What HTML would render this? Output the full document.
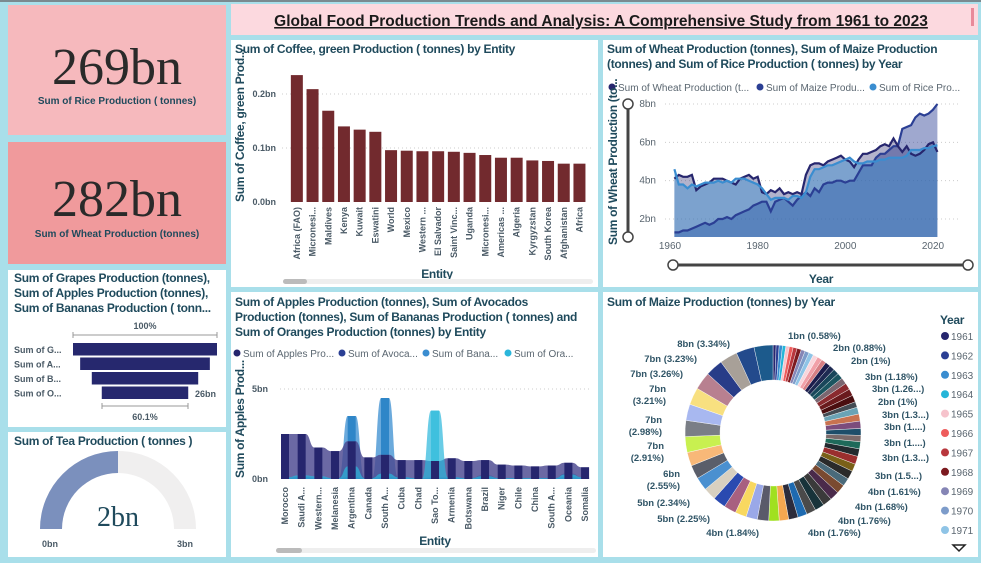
<!DOCTYPE html>
<html><head><meta charset="utf-8"><style>
html,body{margin:0;padding:0;background:#a9dfea;}
svg{display:block;font-family:"Liberation Sans",sans-serif;}
.t{font-weight:bold;font-size:12px;fill:#1f4a5c;letter-spacing:-0.3px}
.tk{font-size:9px;fill:#4a5a66;font-weight:bold}
.lg{font-size:10px;fill:#5a6670}
.dl{font-size:9.5px;fill:#2f5466;font-weight:bold}
</style></head><body>
<svg id="s" width="981" height="563" viewBox="0 0 981 563">
<rect x="0" y="0" width="981" height="563" fill="#a9dfea"/>
<rect x="0" y="0" width="981" height="2" fill="#7a8a90"/>
<g>
<rect x="8" y="5" width="218" height="130" fill="#f6b9bd"/>
<text x="117" y="84" text-anchor="middle" font-family="Liberation Serif,serif" font-size="52" fill="#2a2a2a">269bn</text>
<text x="117" y="104" text-anchor="middle" font-size="10" font-weight="bold" fill="#1f4a5c">Sum of Rice  Production ( tonnes)</text>
</g>
<g>
<rect x="8" y="142" width="218" height="122" fill="#f09a9c"/>
<text x="117" y="216" text-anchor="middle" font-family="Liberation Serif,serif" font-size="52" fill="#2a2a2a">282bn</text>
<text x="117" y="237" text-anchor="middle" font-size="10" font-weight="bold" fill="#1f4a5c">Sum of Wheat Production (tonnes)</text>
</g>
<g>
<rect x="8" y="270" width="218" height="157" fill="#fff"/>
<text class="t" x="14" y="282">Sum of Grapes Production (tonnes),</text>
<text class="t" x="14" y="297">Sum of Apples Production (tonnes),</text>
<text class="t" x="14" y="312">Sum of Bananas Production ( tonn...</text>
<text class="tk" x="145" y="329" text-anchor="middle">100%</text>
<line x1="73" y1="335" x2="217" y2="335" stroke="#999"/><line x1="73" y1="332" x2="73" y2="338" stroke="#999"/><line x1="217" y1="332" x2="217" y2="338" stroke="#999"/>
<g id="funnel"></g>
<text class="tk" x="195" y="397">26bn</text>
<line x1="102" y1="406" x2="188" y2="406" stroke="#999"/><line x1="102" y1="403" x2="102" y2="409" stroke="#999"/><line x1="188" y1="403" x2="188" y2="409" stroke="#999"/>
<text class="tk" x="145" y="420" text-anchor="middle">60.1%</text>
</g>
<g>
<rect x="8" y="432" width="218" height="125" fill="#fff"/>
<text class="t" x="14" y="445">Sum of Tea Production ( tonnes )</text>
<g id="gauge"></g>
<text x="118" y="526" text-anchor="middle" font-family="Liberation Serif,serif" font-size="28" fill="#1f4a5c">2bn</text>
<text class="tk" x="50" y="547" text-anchor="middle">0bn</text>
<text class="tk" x="185" y="547" text-anchor="middle">3bn</text>
</g>
<g>
<rect x="231" y="4" width="747" height="31" fill="#fcd9df"/>
<text x="601" y="26" text-anchor="middle" font-size="15.5" font-weight="bold" fill="#1a1a1a" text-decoration="underline">Global Food Production Trends and Analysis: A Comprehensive Study from 1961 to 2023</text>
<rect x="971" y="8" width="3" height="18" fill="#e88a9a"/>
</g>
<g>
<rect x="231" y="40" width="367" height="247" fill="#fff"/>
<text class="t" x="235" y="53">Sum of Coffee, green Production ( tonnes) by Entity</text>
<text class="t" transform="translate(244,202) rotate(-90)" font-size="11">Sum of Coffee, green Prod...</text>
<g id="coffee"></g>
<text class="t" x="437" y="278" text-anchor="middle" font-size="11">Entity</text>
<rect x="283" y="279" width="310" height="5" rx="2.5" fill="#eee"/>
<rect x="283" y="279" width="24" height="5" rx="2.5" fill="#bbb"/>
</g>
<g>
<rect x="603" y="40" width="375" height="247" fill="#fff"/>
<text class="t" x="607" y="53">Sum of Wheat Production (tonnes), Sum of Maize Production</text>
<text class="t" x="607" y="68">(tonnes) and Sum of Rice Production ( tonnes) by Year</text>
<circle cx="612" cy="87" r="3.5" fill="#26266e"/><text class="lg" x="618" y="91">Sum of Wheat Production (t...</text>
<circle cx="760" cy="87" r="3.5" fill="#2b3f94"/><text class="lg" x="766" y="91">Sum of Maize Produ...</text>
<circle cx="873" cy="87" r="3.5" fill="#3a8dd0"/><text class="lg" x="879" y="91">Sum of Rice  Pro...</text>
<text class="t" transform="translate(617,245) rotate(-90)" font-size="11">Sum of Wheat Production (to...</text>
<line x1="628" y1="104" x2="628" y2="237" stroke="#444" stroke-width="3"/>
<circle cx="628" cy="104" r="5" fill="#fff" stroke="#444" stroke-width="1.5"/>
<circle cx="628" cy="237" r="5" fill="#fff" stroke="#444" stroke-width="1.5"/>
<g id="line"></g>
<line x1="673" y1="265" x2="968" y2="265" stroke="#444" stroke-width="3"/>
<circle cx="673" cy="265" r="5" fill="#fff" stroke="#444" stroke-width="1.5"/>
<circle cx="968" cy="265" r="5" fill="#fff" stroke="#444" stroke-width="1.5"/>
<text class="t" x="821" y="283" text-anchor="middle" font-size="11">Year</text>
</g>
<g>
<rect x="231" y="292" width="367" height="265" fill="#fff"/>
<text class="t" x="235" y="306">Sum of Apples Production (tonnes), Sum of Avocados</text>
<text class="t" x="235" y="321">Production (tonnes), Sum of Bananas Production ( tonnes) and</text>
<text class="t" x="235" y="336">Sum of Oranges Production (tonnes) by Entity</text>
<circle cx="237" cy="353" r="3.5" fill="#26266e"/><text class="lg" x="243" y="357">Sum of Apples Pro...</text>
<circle cx="342" cy="353" r="3.5" fill="#2b3f94"/><text class="lg" x="348" y="357">Sum of Avoca...</text>
<circle cx="426" cy="353" r="3.5" fill="#3a8dd0"/><text class="lg" x="432" y="357">Sum of Bana...</text>
<circle cx="508" cy="353" r="3.5" fill="#2ab6db"/><text class="lg" x="514" y="357">Sum of Ora...</text>
<text class="t" transform="translate(244,478) rotate(-90)" font-size="11">Sum of Apples Prod...</text>
<g id="ribbon"></g>
<text class="t" x="435" y="545" text-anchor="middle" font-size="11">Entity</text>
<rect x="276" y="548" width="320" height="5" rx="2.5" fill="#eee"/>
<rect x="276" y="548" width="26" height="5" rx="2.5" fill="#bbb"/>
</g>
<g>
<rect x="603" y="292" width="375" height="265" fill="#fff"/>
<text class="t" x="607" y="306">Sum of Maize Production (tonnes) by Year</text>
<g id="donut"></g>
<g id="dlabels"></g>
<text class="t" x="940" y="324" font-size="11">Year</text>
<g id="legend"></g>
<path d="M953 545 L965 545 L959 551 Z" fill="none" stroke="#222" stroke-width="1.5"/>
</g>
</svg>
<script>
const NS="http://www.w3.org/2000/svg";
function mk(p,tag,attrs,txt){const e=document.createElementNS(NS,tag);for(const k in attrs)e.setAttribute(k,attrs[k]);if(txt!=null)e.textContent=txt;document.getElementById(p).appendChild(e);return e;}

const funnelCats=["Sum of G...","Sum of A...","Sum of B...","Sum of O..."];
const funnelVals=[43.3,39,32,26];
const teaValue=1.5, teaMax=3;
const coffeeCats=["Africa (FAO)","Micronesi...","Maldives","Kenya","Kuwait","Eswatini","World","Mexico","Western ...","El Salvador","Saint Vinc...","Uganda","Micronesi...","Americas ...","Algeria","Kyrgyzstan","South Korea","Afghanistan","Africa"];
const coffeeVals=[0.235,0.209,0.169,0.140,0.134,0.130,0.096,0.095,0.094,0.094,0.093,0.091,0.087,0.082,0.082,0.077,0.076,0.071,0.071];
const coffeeTicks=[0,0.1,0.2];
const years=[];for(let y=1961;y<=2021;y++)years.push(y);
const wheatVals=[4.1,4.3,4.2,4.2,4.3,3.5,3.7,3.8,3.9,4.1,4.1,4.1,4.0,3.9,3.8,4.1,4.2,4.3,4.1,4.2,3.4,3.3,3.5,3.4,3.6,3.3,3.4,3.3,3.4,3.3,4.3,4.8,4.9,4.9,4.8,5.0,5.1,5.2,5.3,5.1,5.0,4.7,5.1,5.4,5.4,5.5,5.6,5.8,5.9,5.8,6.2,5.8,5.5,5.8,5.4,5.3,5.4,5.6,5.9,6.0,5.5];
const maizeVals=[1.3,1.3,1.4,1.4,1.5,1.6,1.7,1.8,1.7,1.8,2.0,2.0,2.1,2.0,2.2,2.3,2.4,2.5,2.7,2.8,2.9,2.9,2.4,2.9,3.0,3.1,2.9,2.7,3.0,3.2,3.4,3.2,3.6,3.4,3.8,3.9,3.9,4.0,4.0,3.9,4.0,4.0,4.4,4.8,4.8,4.8,5.2,5.4,5.4,5.6,5.8,5.8,6.7,6.8,6.9,7.3,7.5,7.4,7.5,7.7,8.0];
const riceVals=[4.6,3.8,3.8,3.6,3.8,3.7,3.8,3.9,3.9,3.9,4.0,3.9,4.0,3.9,4.1,4.1,4.1,4.0,3.9,3.8,3.6,3.3,3.0,3.1,3.1,3.1,3.0,3.2,3.2,3.1,3.4,4.2,4.6,4.6,4.7,4.8,4.8,4.9,5.0,5.1,5.2,5.0,4.9,4.9,5.0,5.0,5.0,5.1,5.1,5.2,5.2,5.2,5.2,5.3,5.6,5.6,5.6,5.7,5.7,5.8,5.85];
const lineYTicks=[2,4,6,8];
const lineXTicks=[1960,1980,2000,2020];
const fruitCats=["Morocco","Saudi A...","Western...","Melanesia","Argentina","Canada","South A...","Cuba","Chad","Sao To...","Armenia","Botswana","Brazil","Niger","Chile","China","South A...","Oceania","Somalia"];
const applesVals=[2.5,2.5,1.75,1.55,2.1,1.2,1.35,1.05,1.05,1.0,1.15,1.0,1.05,0.8,0.75,0.7,0.75,0.9,0.65];
const avocadoVals=[0.05,0.1,0.05,0.03,0.1,0.02,0.1,0.05,0.02,0.05,0.05,0.03,0.1,0.02,0.05,0.03,0.05,0.1,0.05];
const bananaVals=[0.1,0.15,0.1,0.05,3.5,0.05,4.5,0.1,0.05,0.1,0.1,0.05,0.2,0.05,0.05,0.05,0.05,0.3,0.1];
const orangeVals=[0.1,0.2,0.15,0.05,0.7,0.05,0.3,0.1,0.05,3.8,0.1,0.05,0.15,0.05,0.05,0.05,0.05,0.25,0.1];
const fruitTicks=[0,5];
const donutColors=["#26266e","#2b3f94","#3a8dd0","#25b5d8","#f6c3cc","#ee5c5c","#b8373d","#7c1a1f","#8585b5","#7d9cca","#8fc4e6","#f9d6dc","#f1a0a8","#d77f84","#1c1c4c","#1e2a52","#19465a","#1b5560","#7a6670","#8a2a2f","#6a1a1d","#4a0e10","#444c54","#6aa3b5","#c87250","#7c4c7c","#1e4e6a","#7a6a6a","#1e6a5a","#222a2e","#9a2e2e","#7a6018","#2a2a2a","#4a6a7a","#7a4a30","#4a2a4a","#3a3a3a","#18333a","#4a4a4a","#1e6ab0","#2c2c3c","#f5a850","#a0e020","#5a5a6a","#9aa8e8","#f8d860","#a86080","#2a4ab0","#d8d0c0","#4a90d0","#5a5e6a","#f8b878","#c8f050","#7a7e86","#a8b8f0","#f8e080","#b88090","#283c88","#a8a098","#234a8c","#1c5a8c"];
const donutLabelsR=[["1bn (0.58%)",788,339],["2bn (0.88%)",833,351],["2bn (1%)",851,364],["3bn (1.18%)",865,380],["3bn (1.26...)",872,392],["2bn (1%)",878,405],["3bn (1.3...)",882,418],["3bn (1....)",884,430],["3bn (1....)",884,446],["3bn (1.3...)",882,461],["3bn (1.5...)",875,479],["4bn (1.61%)",868,495],["4bn (1.68%)",855,510],["4bn (1.76%)",838,524],["4bn (1.76%)",808,536]];
const donutLabelsL=[["4bn (1.84%)",759,536],["5bn (2.25%)",710,522],["5bn (2.34%)",690,506],["6bn",680,477],["(2.55%)",680,489],["7bn",664,449],["(2.91%)",664,461],["7bn",662,423],["(2.98%)",662,435],["7bn",666,392],["(3.21%)",666,404],["7bn (3.26%)",683,377],["7bn (3.23%)",697,362],["8bn (3.34%)",730,347]];

{const cx=145,maxW=144,y0=343,step=14.5;
funnelVals.forEach((v,i)=>{const w=maxW*v/funnelVals[0];const r=mk('funnel','rect',{x:cx-w/2,y:y0+i*step,width:w,height:12.5,fill:'#26286e'});


const t=mk('funnel','text',{x:14,y:y0+i*step+10,class:'tk'},funnelCats[i]);

});}

{const cx=118,cy=529,R=78,r=56;
function arc(a0,a1,col){const p=(a,rr)=>[cx+rr*Math.cos(a),cy-rr*Math.sin(a)];
const [x0,y0]=p(a0,R),[x1,y1]=p(a1,R),[x2,y2]=p(a1,r),[x3,y3]=p(a0,r);
return mk('gauge','path',{d:`M${x0} ${y0} A${R} ${R} 0 0 1 ${x1} ${y1} L${x2} ${y2} A${r} ${r} 0 0 0 ${x3} ${y3} Z`,fill:col});}
const bg=arc(Math.PI,0,'#f0efef');


const fg=arc(Math.PI,Math.PI*(1-teaValue/teaMax),'#7b90bd');

}

{const y=v=>202-v*540,x0=289,band=15.7;
coffeeTicks.forEach(t=>{if(t>0)mk('coffee','line',{x1:282,x2:592,y1:y(t),y2:y(t),stroke:'#ccc','stroke-dasharray':'1 3'});
const e=mk('coffee','text',{x:276,y:y(t)+3,class:'tk','text-anchor':'end'},t.toFixed(1)+'bn');

});
coffeeVals.forEach((v,i)=>{const cx=x0+band*i+band/2;
const r=mk('coffee','rect',{x:cx-6,y:y(v),width:12,height:202-y(v),fill:'#722a2e'});


const t=mk('coffee','text',{transform:`translate(${cx+3},207) rotate(-90)`,class:'tk','text-anchor':'end','font-size':'8.5'},coffeeCats[i]);

});}

{const x=yr=>670+(yr-1960)*4.383,y=v=>219-(v-2)*19.17,base=237;
lineYTicks.forEach(t=>{mk('line','line',{x1:665,x2:960,y1:y(t),y2:y(t),stroke:'#ccc','stroke-dasharray':'1 3'});
const e=mk('line','text',{x:656,y:y(t)+3,class:'lg','text-anchor':'end','font-size':'9'},t+'bn');

});
lineXTicks.forEach(t=>{const e=mk('line','text',{x:x(t),y:249,class:'lg','text-anchor':'middle','font-size':'9'},t);

});
const ser=[[maizeVals,'#2b3f94',0.45,'maize'],[wheatVals,'#26266e',0.35,'wheat'],[riceVals,'#3a8dd0',0.45,'rice']];
ser.forEach(([vals,col,op,nm])=>{let d='';vals.forEach((v,i)=>{d+=(i?'L':'M')+x(years[i]).toFixed(1)+' '+y(v).toFixed(1);});
const a=mk('line','path',{d:d+`L${x(years[years.length-1])} ${base}L${x(years[0])} ${base}Z`,fill:col,'fill-opacity':op});

});
ser.forEach(([vals,col,op,nm])=>{let d='';vals.forEach((v,i)=>{d+=(i?'L':'M')+x(years[i]).toFixed(1)+' '+y(v).toFixed(1);});
const l=mk('line','path',{d,fill:'none',stroke:col,'stroke-width':2.2});

});}

{const y=v=>479-v*18,x=i=>285+i*16.67,h=4;
fruitTicks.forEach(t=>{if(t>0)mk('ribbon','line',{x1:280,x2:592,y1:y(t),y2:y(t),stroke:'#ccc','stroke-dasharray':'1 3'});
const e=mk('ribbon','text',{x:268,y:y(t)+3,class:'tk','text-anchor':'end'},t+'bn');

});
function rib(vals,col,op,nm){let d=`M${x(0)-h} ${y(0)}L${x(0)-h} ${y(vals[0])}`;
vals.forEach((v,i)=>{d+=`L${x(i)+h} ${y(v)}`;if(i<vals.length-1){const xa=x(i)+h,xb=x(i+1)-h,m=(xa+xb)/2;d+=`C${m} ${y(v)} ${m} ${y(vals[i+1])} ${xb} ${y(vals[i+1])}`;}});
d+=`L${x(vals.length-1)+h} ${y(0)}Z`;
const p=mk('ribbon','path',{d,fill:col,'fill-opacity':op});

}
rib(bananaVals,'#3a8dd0',0.75,'bananas');
rib(applesVals,'#4a4890',0.82,'apples');
rib(avocadoVals,'#2b3f94',0.8,'avocados');
rib(orangeVals,'#2ab6db',0.7,'oranges');
applesVals.forEach((v,i)=>{const r=mk('ribbon','rect',{x:x(i)-h,y:y(v),width:2*h,height:479-y(v),fill:'#26266e'});

});
bananaVals.forEach((v,i)=>{if(v>1){const r=mk('ribbon','rect',{x:x(i)-h,y:y(v),width:2*h,height:y(applesVals[i])-y(v),fill:'#2f86c8'});

}});
orangeVals.forEach((v,i)=>{if(v>1){const r=mk('ribbon','rect',{x:x(i)-h,y:y(v),width:2*h,height:y(applesVals[i])-y(v),fill:'#3fc0de'});

}});
fruitCats.forEach((c,i)=>{const t=mk('ribbon','text',{transform:`translate(${x(i)+3},487) rotate(-90)`,class:'tk','text-anchor':'end','font-size':'8.5'},c);

});}

{const cx=773,cy=433,R=88,r=53;const tot=maizeVals.reduce((a,b)=>a+b,0);let a=0;
maizeVals.forEach((v,i)=>{const a0=a,a1=a+v/tot*2*Math.PI;a=a1;
const p=(an,rr)=>[cx+rr*Math.sin(an),cy-rr*Math.cos(an)];
const [x0,y0]=p(a0,R),[x1,y1]=p(a1,R),[x2,y2]=p(a1,r),[x3,y3]=p(a0,r);const lg=(a1-a0)>Math.PI?1:0;
const s=mk('donut','path',{d:`M${x0} ${y0}A${R} ${R} 0 ${lg} 1 ${x1} ${y1}L${x2} ${y2}A${r} ${r} 0 ${lg} 0 ${x3} ${y3}Z`,fill:donutColors[i%donutColors.length],stroke:'#fff','stroke-width':0.4});

});
donutLabelsR.forEach(([t,x,y])=>{const e=mk('dlabels','text',{x,y,class:'dl'},t);

});
donutLabelsL.forEach(([t,x,y])=>{const e=mk('dlabels','text',{x,y,class:'dl','text-anchor':'end'},t);

});
for(let i=0;i<11;i++){const yy=336+i*19.4;
const c=mk('legend','circle',{cx:945,cy:yy,r:4,fill:donutColors[i]});


const t=mk('legend','text',{x:951,y:yy+4,class:'lg','font-size':'10.5'},years[i]);

}}
</script>
</body></html>
